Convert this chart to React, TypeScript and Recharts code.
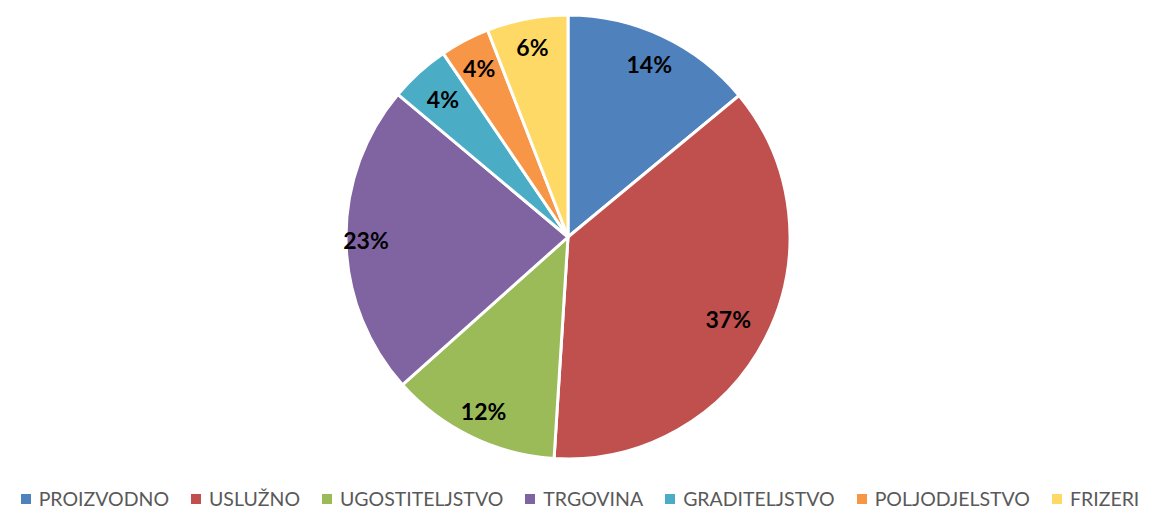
import { PieChart, Pie, Cell, Legend } from "recharts";

const CATEGORIES = [
  "PROIZVODNO",
  "USLUŽNO",
  "UGOSTITELJSTVO",
  "TRGOVINA",
  "GRADITELJSTVO",
  "POLJODJELSTVO",
  "FRIZERI",
];
const SHARES = [14.0, 37.0, 12.4, 22.7, 4.4, 3.6, 5.9];
const PERCENT_LABELS = ["14%", "37%", "12%", "23%", "4%", "4%", "6%"];

const COLORS = ["#4F81BD", "#C0504D", "#9BBB59", "#8064A2", "#4BACC6", "#F79646", "#FFD966"];
// label distance from centre, as fraction of radius (Excel best fit look)
const LABEL_POS = [0.86, 0.81, 0.87, 0.91, 0.84, 0.86, 0.87];

const data = CATEGORIES.map((name, i) => ({ name, value: SHARES[i], label: PERCENT_LABELS[i] }));

const RAD = Math.PI / 180;

function renderLabel(props: any) {
  const { cx, cy, midAngle, outerRadius, index } = props;
  const r = outerRadius * LABEL_POS[index];
  const x = cx + r * Math.cos(-midAngle * RAD);
  const y = cy + r * Math.sin(-midAngle * RAD);
  return (
    <text
      x={x}
      y={y}
      textAnchor="middle"
      dominantBaseline="central"
      fill="#000"
      fontFamily="Lato, 'Open Sans', sans-serif"
      fontWeight="bold"
      fontSize={23}
    >
      {data[index].label}
    </text>
  );
}

function renderLegend() {
  return (
    <div
      style={{
        display: "flex",
        justifyContent: "center",
        gap: 22,
        fontFamily: "Lato, 'Open Sans', sans-serif",
        fontSize: 19.5,
        color: "#595959",
        paddingLeft: 8,
        whiteSpace: "nowrap",
      }}
    >
      {CATEGORIES.map((name, i) => (
        <div key={name} style={{ display: "flex", alignItems: "center" }}>
          <span
            style={{ width: 10, height: 10, background: COLORS[i], marginRight: 8, display: "inline-block" }}
          />
          <span>{name}</span>
        </div>
      ))}
    </div>
  );
}

export default function App() {
  return (
    <div style={{ position: "absolute", left: 0, top: 0, width: 1152, height: 509, background: "#fff" }}>
      <PieChart width={1152} height={509} margin={{ top: 0, right: 0, bottom: 0, left: 0 }}>
        <Pie
          data={data}
          dataKey="value"
          nameKey="name"
          cx={568}
          cy={237}
          outerRadius={222}
          startAngle={90}
          endAngle={-270}
          stroke="#fff"
          strokeWidth={3}
          label={renderLabel}
          labelLine={false}
          isAnimationActive={false}
        >
          {data.map((d, i) => (
            <Cell key={d.name} fill={COLORS[i]} />
          ))}
        </Pie>
        <Legend
          content={renderLegend}
          verticalAlign="bottom"
          wrapperStyle={{ bottom: -1, left: 0, width: 1152 }}
        />
      </PieChart>
    </div>
  );
}
